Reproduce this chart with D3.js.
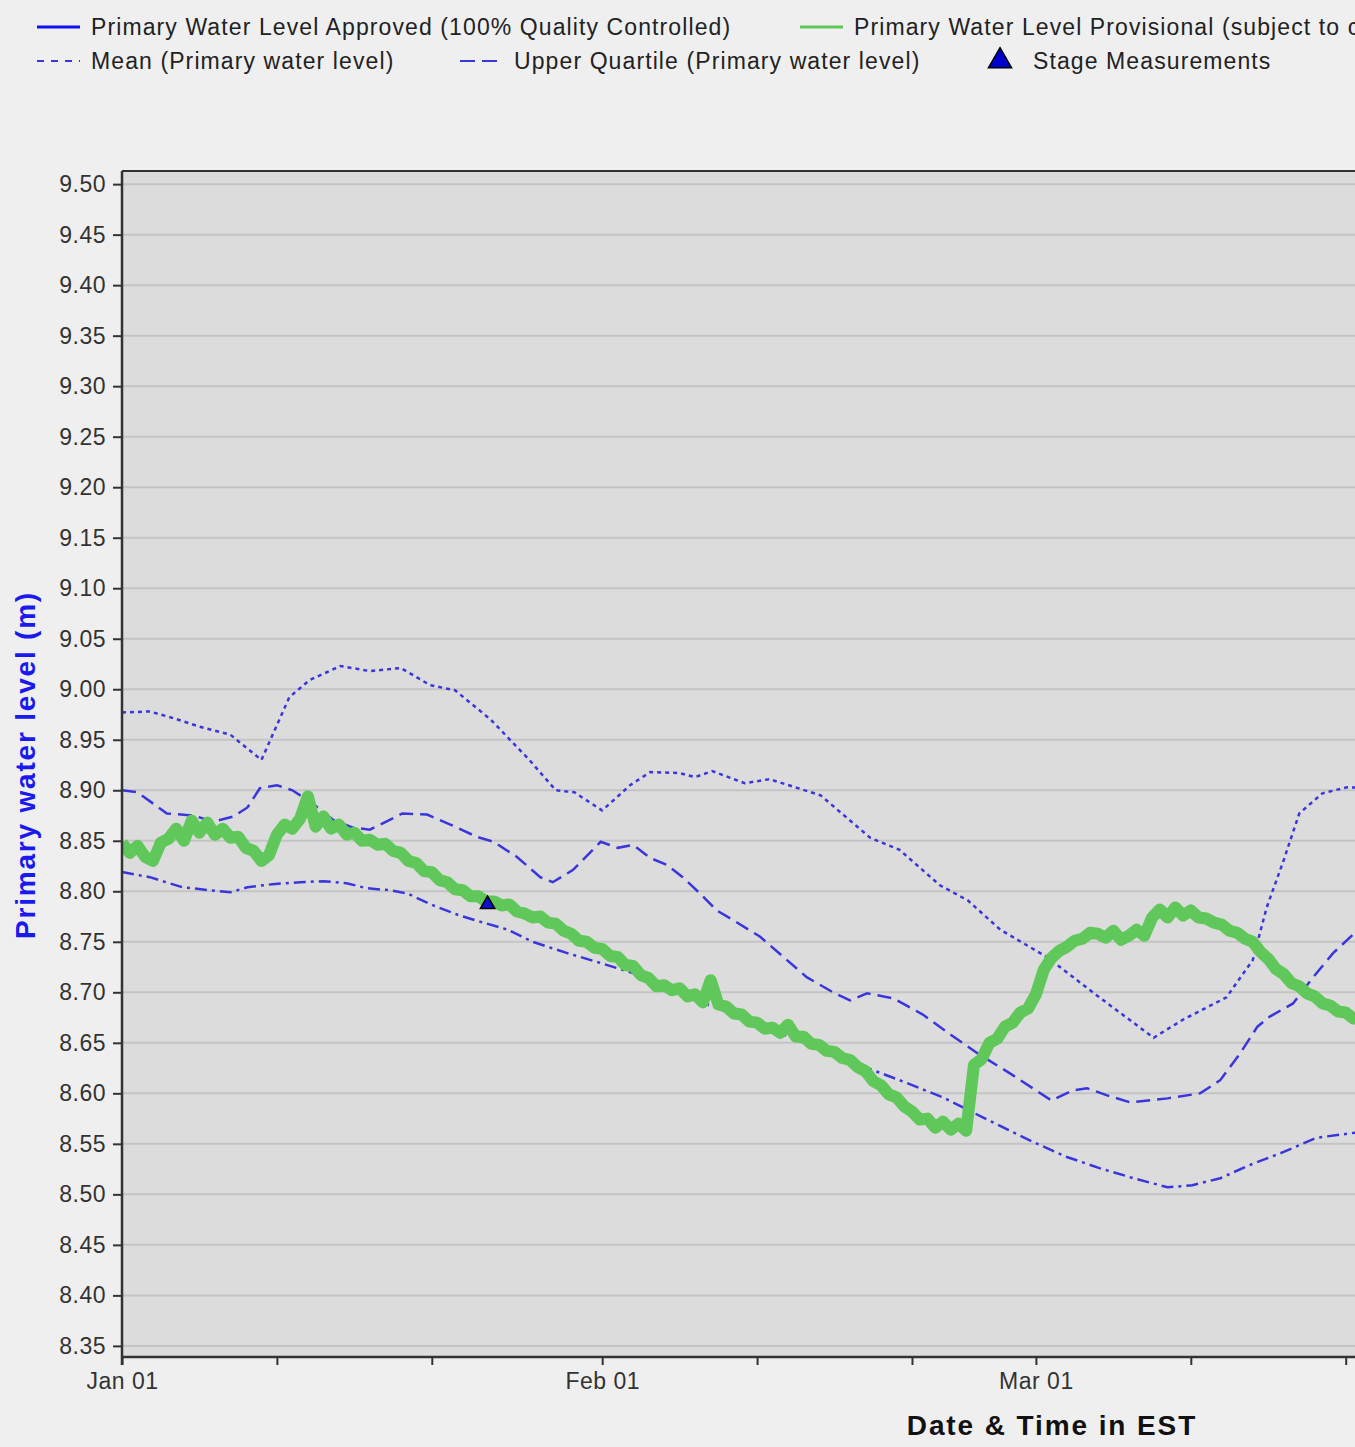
<!DOCTYPE html>
<html lang="en">
<head>
    <meta charset="UTF-8">
    <title>Primary water level</title>
    <script src="https://cdnjs.cloudflare.com/ajax/libs/d3/7.8.4/d3.min.js"></script>
    <style>
        body { margin: 0; background: #efefef; }
        svg { display: block; font-family: "Liberation Sans", Arial, sans-serif; }
    </style>
</head>
<body>
    <svg width="1355" height="1447"></svg>

    <script>
        // provisional data: one reading every 12 hours from Jan 01
        const provisionalStart = new Date(2023, 0, 1);
        const provisionalStepHours = 12;
        const provisionalLevels = [
            8.848, 8.838, 8.845, 8.834, 8.830, 8.848, 8.852, 8.862, 8.850, 8.870,
            8.858, 8.868, 8.856, 8.862, 8.853, 8.854, 8.843, 8.840, 8.830, 8.836,
            8.856, 8.866, 8.862, 8.872, 8.894, 8.864, 8.874, 8.862, 8.866, 8.856,
            8.858, 8.850, 8.851, 8.846, 8.847, 8.840, 8.838, 8.830, 8.828, 8.820,
            8.819, 8.811, 8.809, 8.802, 8.801, 8.795, 8.795, 8.790, 8.790, 8.786,
            8.787, 8.780, 8.778, 8.774, 8.775, 8.769, 8.768, 8.761, 8.758, 8.751,
            8.750, 8.744, 8.743, 8.736, 8.735, 8.727, 8.726, 8.717, 8.714, 8.706,
            8.707, 8.702, 8.704, 8.696, 8.698, 8.690, 8.712, 8.688, 8.686, 8.679,
            8.678, 8.671, 8.670, 8.664, 8.665, 8.660, 8.668, 8.656, 8.656, 8.649,
            8.648, 8.642, 8.641, 8.635, 8.633, 8.626, 8.622, 8.612, 8.608, 8.599,
            8.596, 8.587, 8.582, 8.574, 8.575, 8.566, 8.572, 8.564, 8.570, 8.563,
            8.628, 8.634, 8.650, 8.654, 8.666, 8.670, 8.680, 8.684, 8.698, 8.722,
            8.734, 8.741, 8.745, 8.751, 8.753, 8.759, 8.758, 8.754, 8.761, 8.752,
            8.756, 8.762, 8.756, 8.774, 8.782, 8.774, 8.784, 8.776, 8.781, 8.774,
            8.773, 8.769, 8.767, 8.761, 8.759, 8.753, 8.750, 8.740, 8.733, 8.723,
            8.718, 8.709, 8.706, 8.699, 8.696, 8.689, 8.687, 8.681, 8.680, 8.674,
            8.675
        ];

        // statistics, days after Jan 01
        const meanDays = [0, 1.8, 3.4, 5.0, 7.0, 9.0, 10.8, 12.1, 14.1, 16.0, 18.0, 19.9, 21.5, 23.8, 26.3,
            28.0, 29.2, 31.0, 32.8, 34.1, 36.0, 37.0, 38.1, 40.2, 41.8, 45.1, 48.3, 50.2, 52.8, 54.6,
            56.7, 59.7, 63.1, 66.6, 68.5, 71.3, 73.0, 73.9, 75.0, 76.0, 77.5, 79.1, 80.6];
        const meanLevels = [8.977, 8.978, 8.971, 8.963, 8.955, 8.930, 8.992, 9.009, 9.023, 9.018, 9.021, 9.004,
            8.999, 8.970, 8.930, 8.900, 8.898, 8.880, 8.905, 8.918, 8.917, 8.913, 8.919, 8.907, 8.911,
            8.895, 8.853, 8.841, 8.806, 8.791, 8.762, 8.735, 8.695, 8.655, 8.673, 8.695, 8.732, 8.784,
            8.831, 8.877, 8.897, 8.903, 8.902];

        const upperDays = [0, 1.0, 2.9, 4.6, 5.9, 7.2, 8.1, 8.9, 10.0, 11.0, 12.3, 13.6, 14.9, 16.0, 16.8,
            18.1, 19.7, 21.2, 22.9, 24.0, 25.5, 27.0, 27.8, 29.1, 30.9, 32.0, 33.0, 34.1, 35.2, 36.2,
            37.3, 38.4, 39.4, 41.2, 42.7, 44.2, 45.9, 47.0, 48.1, 49.8, 51.7, 53.5, 55.2, 57.3, 60.0,
            61.4, 62.3, 63.6, 65.1, 67.5, 69.6, 70.9, 72.2, 73.3, 74.1, 75.6, 76.9, 78.2, 79.6, 80.6];
        const upperLevels = [8.900, 8.898, 8.877, 8.875, 8.869, 8.874, 8.883, 8.902, 8.905, 8.900, 8.887,
            8.871, 8.863, 8.861, 8.867, 8.877, 8.876, 8.866, 8.854, 8.849, 8.834, 8.814, 8.809, 8.821,
            8.849, 8.843, 8.846, 8.833, 8.826, 8.814, 8.798, 8.781, 8.772, 8.755, 8.735, 8.715, 8.700,
            8.692, 8.699, 8.694, 8.678, 8.658, 8.640, 8.620, 8.593, 8.603, 8.605, 8.598, 8.591, 8.595,
            8.600, 8.613, 8.640, 8.666, 8.676, 8.689, 8.715, 8.739, 8.759, 8.772];

        const lowerDays = [0, 1.8, 3.9, 5.7, 7.0, 8.1, 9.7, 11.5, 13.0, 14.5, 15.8, 17.3, 18.4, 20.1, 21.8,
            23.1, 24.9, 26.5, 28.7, 30.9, 33.0, 37.3, 41.2, 45.1, 47.6, 50.2, 53.0, 55.6, 58.8, 61.0,
            63.1, 65.3, 67.5, 69.1, 70.9, 72.8, 75.0, 77.1, 79.6, 80.6];
        const lowerLevels = [8.819, 8.814, 8.804, 8.801, 8.799, 8.804, 8.807, 8.809, 8.810, 8.808, 8.803,
            8.801, 8.798, 8.786, 8.776, 8.770, 8.762, 8.750, 8.739, 8.729, 8.719, 8.691, 8.668, 8.643,
            8.628, 8.613, 8.596, 8.576, 8.552, 8.537, 8.526, 8.516, 8.507, 8.509, 8.516, 8.529, 8.542,
            8.556, 8.561, 8.562];

        const stageDays = [23.6];
        const stageLevels = [8.787];

        const yTickLabels = ["8.35", "8.40", "8.45", "8.50", "8.55", "8.60", "8.65", "8.70", "8.75", "8.80",
            "8.85", "8.90", "8.95", "9.00", "9.05", "9.10", "9.15", "9.20", "9.25", "9.30", "9.35",
            "9.40", "9.45", "9.50"];
        const xTickDates = ["2023-01-01", "2023-01-11", "2023-01-21", "2023-02-01", "2023-02-11",
            "2023-02-21", "2023-03-01", "2023-03-11", "2023-03-21"];

        const legendRow1 = ["Primary Water Level Approved (100% Quality Controlled)",
            "Primary Water Level Provisional (subject to change)"];
        const legendRow2 = ["Mean (Primary water level)", "Upper Quartile (Primary water level)",
            "Stage Measurements"];

        const statBlue = "#3a36dc";
        const green = "#60c85a";

        const plotLeft = 122, plotTop = 171, plotBottom = 1357, plotRight = 1400, dayPx = 15.49;
        const day0 = new Date(2023, 0, 1);
        const fromDays = d => new Date(day0.getTime() + d * 864e5);

        const x = d3.scaleTime()
            .domain([day0, new Date(2023, 2, 31)])
            .range([plotLeft, plotLeft + 89 * dayPx]);
        const y = d3.scaleLinear().domain([8.339, 9.513]).range([plotBottom, plotTop]);

        const svg = d3.select("svg");

        svg.append("rect").attr("x", plotLeft).attr("y", plotTop)
            .attr("width", plotRight - plotLeft).attr("height", plotBottom - plotTop)
            .attr("fill", "#dcdcdc");

        svg.append("defs").append("clipPath").attr("id", "plot")
            .append("rect").attr("x", plotLeft).attr("y", plotTop)
            .attr("width", plotRight - plotLeft).attr("height", plotBottom - plotTop);

        // gridlines
        svg.append("g").selectAll("line")
            .data(yTickLabels)
            .enter().append("line")
            .attr("x1", plotLeft).attr("x2", plotRight)
            .attr("y1", d => y(+d)).attr("y2", d => y(+d))
            .style("stroke", "#c4c4c4")
            .style("stroke-width", 2);

        const plot = svg.append("g").attr("clip-path", "url(#plot)");

        const line = d3.line().x(d => x(d[0])).y(d => y(d[1]));

        function statLine(days, levels, dash) {
            plot.append("path")
                .datum(days.map((d, i) => [fromDays(d), levels[i]]))
                .attr("d", line)
                .attr("fill", "none")
                .style("stroke", statBlue)
                .style("stroke-width", 2.5)
                .style("stroke-dasharray", dash);
        }

        statLine(meanDays, meanLevels, "4,4");
        statLine(upperDays, upperLevels, "14,7");
        statLine(lowerDays, lowerLevels, "12,5,3,5");

        const provisional = provisionalLevels.map((v, i) =>
            [new Date(provisionalStart.getTime() + i * provisionalStepHours * 36e5), v]);

        plot.append("path")
            .datum(provisional)
            .attr("d", line)
            .attr("fill", "none")
            .style("stroke", green)
            .style("stroke-width", 12)
            .style("stroke-linejoin", "round");

        plot.selectAll("path.stage")
            .data(stageDays.map((d, i) => [fromDays(d), stageLevels[i]]))
            .enter().append("path")
            .attr("class", "stage")
            .attr("transform", d => `translate(${x(d[0])},${y(d[1])})`)
            .attr("d", d3.symbol(d3.symbolTriangle, 90))
            .style("fill", "#1010d0")
            .style("stroke", "#000")
            .style("stroke-width", 1.5);

        // axes
        const yAxis = svg.append("g")
            .attr("transform", `translate(${plotLeft},0)`)
            .call(d3.axisLeft(y)
                .tickValues(yTickLabels.map(Number))
                .tickFormat((d, i) => yTickLabels[i])
                .tickSize(9).tickPadding(7));
        yAxis.select(".domain").remove();

        const xAxis = svg.append("g")
            .attr("transform", `translate(0,${plotBottom})`)
            .call(d3.axisBottom(x)
                .tickValues(xTickDates.map(s => d3.timeParse("%Y-%m-%d")(s)))
                .tickFormat(d => d.getDate() === 1 ? d3.timeFormat("%b %d")(d) : "")
                .tickSize(8).tickPadding(8));
        xAxis.select(".domain").remove();

        [yAxis, xAxis].forEach(a => {
            a.selectAll(".tick line").style("stroke", "#333").style("stroke-width", 2);
            a.selectAll(".tick text").style("font-size", "23px").style("fill", "#333")
                .style("letter-spacing", "0.5px")
                .style("font-family", "'Liberation Sans', Arial, sans-serif");
        });

        // frame
        svg.append("line").attr("x1", plotLeft).attr("x2", plotLeft).attr("y1", plotTop).attr("y2", plotBottom + 8)
            .style("stroke", "#333").style("stroke-width", 2.5);
        svg.append("line").attr("x1", plotLeft).attr("x2", plotRight).attr("y1", plotBottom).attr("y2", plotBottom)
            .style("stroke", "#333").style("stroke-width", 2.5);
        svg.append("line").attr("x1", plotLeft).attr("x2", plotRight).attr("y1", plotTop).attr("y2", plotTop)
            .style("stroke", "#333").style("stroke-width", 2);

        // titles
        svg.append("text")
            .attr("transform", "translate(35,765) rotate(-90)")
            .attr("text-anchor", "middle")
            .style("font-size", "28px").style("font-weight", "bold")
            .style("letter-spacing", "1.8px")
            .style("fill", "#1a1aee")
            .text("Primary water level (m)");

        svg.append("text")
            .attr("x", 1052).attr("y", 1435)
            .attr("text-anchor", "middle")
            .style("font-size", "28px").style("font-weight", "bold")
            .style("letter-spacing", "1.9px")
            .style("fill", "#111")
            .text("Date & Time in EST");

        // legend
        const legend = svg.append("g").style("font-size", "23px").style("fill", "#222")
            .style("letter-spacing", "1.1px");
        const row1X = [37, 800], row2X = [37, 460, 985];

        legendRow1.forEach((label, i) => {
            legend.append("line")
                .attr("x1", row1X[i]).attr("x2", row1X[i] + 43)
                .attr("y1", 27).attr("y2", 27)
                .style("stroke", i === 0 ? "#1010f0" : green)
                .style("stroke-width", 3);
            legend.append("text").attr("x", row1X[i] + 54).attr("y", 35).text(label);
        });

        legendRow2.forEach((label, i) => {
            if (i < 2) {
                legend.append("line")
                    .attr("x1", row2X[i]).attr("x2", row2X[i] + 43)
                    .attr("y1", 61).attr("y2", 61)
                    .style("stroke", statBlue)
                    .style("stroke-width", 2)
                    .style("stroke-dasharray", i === 0 ? "7,7" : "15,7");
                legend.append("text").attr("x", row2X[i] + 54).attr("y", 69).text(label);
            } else {
                legend.append("path")
                    .attr("transform", `translate(${row2X[i] + 15},61)`)
                    .attr("d", d3.symbol(d3.symbolTriangle, 230))
                    .style("fill", "#0000cc").style("stroke", "#000").style("stroke-width", 1.5);
                legend.append("text").attr("x", row2X[i] + 48).attr("y", 69).text(label);
            }
        });
    </script>
</body>
</html>
